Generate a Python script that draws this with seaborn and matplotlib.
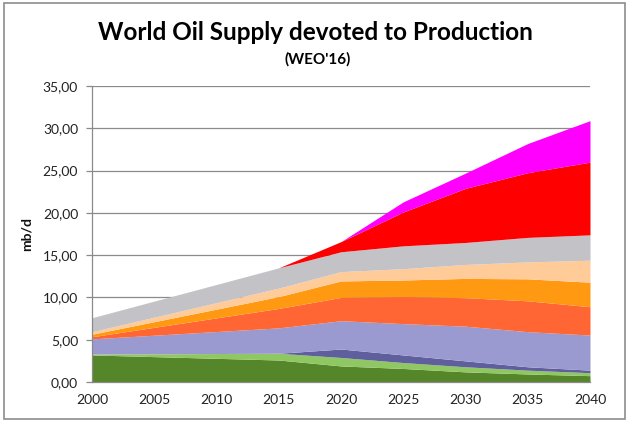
import matplotlib
matplotlib.use("Agg")
import matplotlib.pyplot as plt
import seaborn as sns
import pandas as pd
from matplotlib.patches import Rectangle

years = [2000, 2015, 2020, 2025, 2030, 2035, 2040]
green = [3.2, 2.6, 1.9, 1.6, 1.2, 0.95, 0.75]
light_green = [0.1, 0.8, 1.0, 0.7, 0.6, 0.45, 0.35]
dark_purple = [0.0, 0.0, 1.0, 0.9, 0.7, 0.4, 0.3]
lavender = [1.8, 3.0, 3.35, 3.7, 4.1, 4.15, 4.15]
orange_red = [0.25, 2.3, 2.75, 3.2, 3.37, 3.65, 3.35]
orange = [0.3, 1.4, 1.95, 1.96, 2.28, 2.6, 2.9]
peach = [0.3, 1.0, 1.1, 1.34, 1.65, 2.0, 2.6]
grey = [1.65, 2.4, 2.35, 2.7, 2.6, 2.9, 3.0]
red = [0.0, 0.0, 1.2, 4.0, 6.4, 7.65, 8.6]
magenta = [0.0, 0.0, 0.0, 1.2, 1.8, 3.45, 4.9]

series_names = ["green", "light_green", "dark_purple", "lavender", "orange_red",
                "orange", "peach", "grey", "red", "magenta"]
series_values = [green, light_green, dark_purple, lavender, orange_red,
                 orange, peach, grey, red, magenta]
colors = ["#56862A", "#8FC862", "#5F5F9E", "#9A9AD0", "#FF6633",
          "#FF9911", "#FFCC99", "#C3C3C7", "#FF0000", "#FF00FF"]

y_ticks = [0, 5, 10, 15, 20, 25, 30, 35]
y_tick_labels = ["0,00", "5,00", "10,00", "15,00", "20,00", "25,00", "30,00", "35,00"]
x_ticks = [2000, 2005, 2010, 2015, 2020, 2025, 2030, 2035, 2040]

df = pd.DataFrame({"year": years, **dict(zip(series_names, series_values))})

sns.set_theme(style="white")
plt.rcParams["font.family"] = ["Lato", "DejaVu Sans"]

fig = plt.figure(figsize=(6.3, 4.22), dpi=100)
ax = fig.add_axes([92 / 630, 1 - 382 / 422, (590 - 92) / 630, (382 - 86) / 422])

ax.stackplot(df["year"], *[df[n] for n in series_names], colors=colors,
             linewidth=0, zorder=2)

ax.set_xlim(2000, 2040)
ax.set_ylim(0, 35)
ax.set_yticks(y_ticks)
ax.set_yticklabels(y_tick_labels)
ax.set_xticks(x_ticks)
ax.set_xticklabels([str(x) for x in x_ticks])
ax.set_axisbelow(True)
ax.yaxis.grid(True, color="#8a8a8a", linewidth=0.9)
ax.xaxis.grid(False)

for s in ["top", "right"]:
    ax.spines[s].set_visible(False)
for s in ["left", "bottom"]:
    ax.spines[s].set_color("#8a8a8a")
    ax.spines[s].set_linewidth(0.9)

ax.tick_params(axis="y", which="major", direction="out", length=4, width=0.9,
               color="#8a8a8a", labelsize=10, labelcolor="#222222", pad=6, left=True)
ax.tick_params(axis="x", which="major", length=0, labelsize=10,
               labelcolor="#222222", pad=9)

ax.set_ylabel("mb/d", fontsize=10, fontweight="bold", color="#111111", labelpad=7)

fig.text(315 / 630, 1 - 33 / 422, "World Oil Supply devoted to Production",
         ha="center", va="center", fontsize=17.5, fontweight="bold", color="black")
fig.text(318 / 630, 1 - 59 / 422, "(WEO'16)", ha="center", va="center",
         fontsize=11, fontweight="bold", color="black")

fig.patches.append(Rectangle((4 / 630, 3 / 422), (625 - 4) / 630, (419 - 3) / 422,
                             transform=fig.transFigure, fill=False,
                             edgecolor="#8c8c8c", linewidth=1.2))

fig.savefig("out.png", dpi=100)
